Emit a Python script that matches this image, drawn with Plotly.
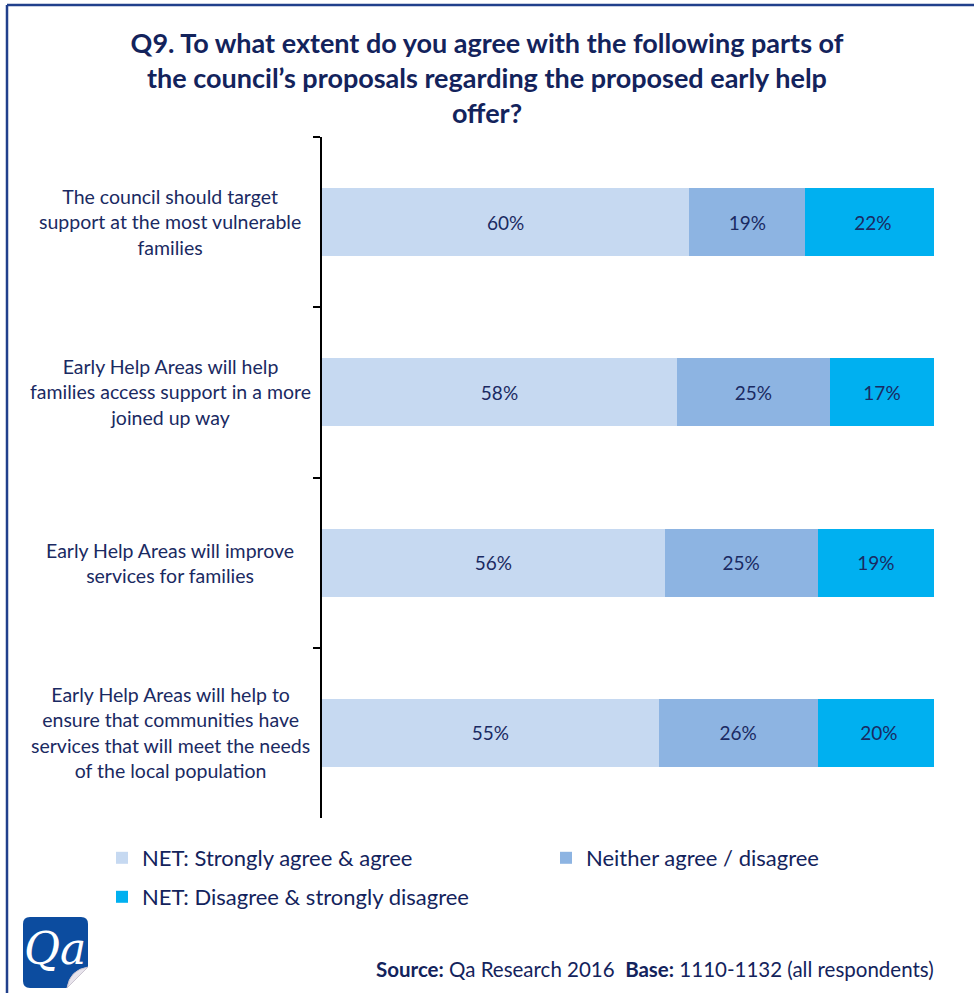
import plotly.graph_objects as go

# --- data -------------------------------------------------------------
statements = [
    "The council should target<br>support at the most vulnerable<br>families",
    "Early Help Areas will help<br>families access support in a more<br>joined up way",
    "Early Help Areas will improve<br>services for families",
    "Early Help Areas will help to<br>ensure that communities have<br>services that will meet the needs<br>of the local population",
]
series_names = [
    "NET: Strongly agree & agree",
    "Neither agree / disagree",
    "NET: Disagree & strongly disagree",
]
agree = [60, 58, 56, 55]
neither = [19, 25, 25, 26]
disagree = [22, 17, 19, 20]

title_text = ("Q9. To what extent do you agree with the following parts of<br>"
              "the council\u2019s proposals regarding the proposed early help<br>"
              "offer?")
source_text = ("<b>Source:</b> Qa Research 2016\u00a0\u00a0<b>Base:</b> "
               "1110-1132 (all respondents)")

# --- styling ----------------------------------------------------------
W, H = 974, 993
L, R, T, B = 322, 40, 137, 175          # plot area margins (px)
PW, PH = W - L - R, H - T - B
NAVY = "#1A2A62"
TITLE_NAVY = "#13235C"
COLORS = ["#C6D9F1", "#8DB4E2", "#00B0F0"]
FONT = "Lato"


def px_x(x):
    """figure pixel x -> paper coordinate"""
    return (x - L) / PW


def px_y(y):
    """figure pixel y (from top) -> paper coordinate"""
    return (H - B - y) / PH


fig = go.Figure()
# one legend box per series so each entry sits in its own slot
legend_of = ["legend", "legend3", "legend2"]
for name, vals, col, lg in zip(series_names, [agree, neither, disagree],
                               COLORS, legend_of):
    fig.add_trace(go.Bar(
        y=statements, x=vals, name=name, orientation="h",
        marker=dict(color=col, line=dict(width=0)),
        width=0.4,
        text=[f"{v}%" for v in vals],
        textposition="inside", insidetextanchor="middle", textangle=0,
        textfont=dict(family=FONT, size=19, color=NAVY),
        hoverinfo="skip", legend=lg,
    ))

# category labels, centred multi-line text left of the axis
annotations = []
for s in statements:
    annotations.append(dict(
        x=px_x(170), xref="paper", y=s, yref="y",
        text=s, showarrow=False, align="center",
        xanchor="center", yanchor="middle",
        font=dict(family=FONT, size=19.5, color=NAVY),
    ))

# source line
annotations.append(dict(
    x=px_x(936), xref="paper", y=px_y(969), yref="paper",
    text=source_text, showarrow=False, xanchor="right", yanchor="middle",
    font=dict(family=FONT, size=20.5, color=TITLE_NAVY),
))

# logo lettering
annotations.append(dict(
    x=px_x(55), xref="paper", y=px_y(948), yref="paper",
    text="<i>Qa</i>", showarrow=False, xanchor="center", yanchor="middle",
    font=dict(family="DejaVu Serif", size=44, color="white"),
))

# logo tile (rounded square) and its curled corner
x0, x1, y0, y1, r = px_x(23), px_x(88), px_y(917), px_y(988), 7
rx, ry = r / PW, r / PH
tile = (f"M{x0 + rx},{y0} L{x1 - rx},{y0} Q{x1},{y0} {x1},{y0 - ry} "
        f"L{x1},{y1 + 3 * ry} L{x1 - 3 * rx},{y1} L{x0 + rx},{y1} "
        f"Q{x0},{y1} {x0},{y1 + ry} L{x0},{y0 - ry} Q{x0},{y0} {x0 + rx},{y0} Z")
curl = (f"M{x1},{y1 + 3 * ry} L{x1 - 3 * rx},{y1} "
        f"Q{x1 - 2.6 * rx},{y1 + 2.6 * ry} {x1},{y1 + 3 * ry} Z")

shapes = [
    dict(type="path", path=tile, xref="paper", yref="paper",
         fillcolor="#0C4C9F", line=dict(width=0), layer="above"),
    dict(type="path", path=curl, xref="paper", yref="paper",
         fillcolor="#E8E4EC", line=dict(color="#C9C3CF", width=1), layer="above"),
    # frame edges
    dict(type="line", xref="paper", yref="paper",
         x0=px_x(7), x1=px_x(980), y0=px_y(5), y1=px_y(5),
         line=dict(color="#21408C", width=2.5)),
    dict(type="line", xref="paper", yref="paper",
         x0=px_x(7), x1=px_x(7), y0=px_y(5), y1=px_y(1000),
         line=dict(color="#21408C", width=2.5)),
]

legend_font = dict(family=FONT, size=22, color=TITLE_NAVY)


def legend_box(x_px, y_px):
    return dict(orientation="h", x=px_x(x_px), xanchor="left",
                y=px_y(y_px), yanchor="top", font=legend_font,
                itemclick=False, itemdoubleclick=False)


fig.update_layout(
    width=W, height=H,
    margin=dict(l=L, r=R, t=T, b=B),
    paper_bgcolor="white", plot_bgcolor="white",
    barmode="stack", bargap=0.6,
    title=dict(text=f"<b>{title_text}</b>", x=0.5, xref="container",
               xanchor="center", y=(H - 53) / H, yref="container",
               yanchor="top",
               font=dict(family=FONT, size=27, color=TITLE_NAVY)),
    xaxis=dict(range=[0, 100], visible=False, fixedrange=True),
    yaxis=dict(
        type="category", categoryorder="array", categoryarray=statements,
        showticklabels=False,
        tickson="boundaries", ticks="outside", ticklen=7, tickwidth=2,
        tickcolor="black", showline=True, linecolor="black", linewidth=2,
        showgrid=False, zeroline=False, autorange="reversed",
        fixedrange=True,
    ),
    legend=legend_box(102, 837),
    legend3=legend_box(546, 837),
    legend2=legend_box(102, 876),
    annotations=annotations,
    shapes=shapes,
    showlegend=True,
)

fig.write_html("out.html")
